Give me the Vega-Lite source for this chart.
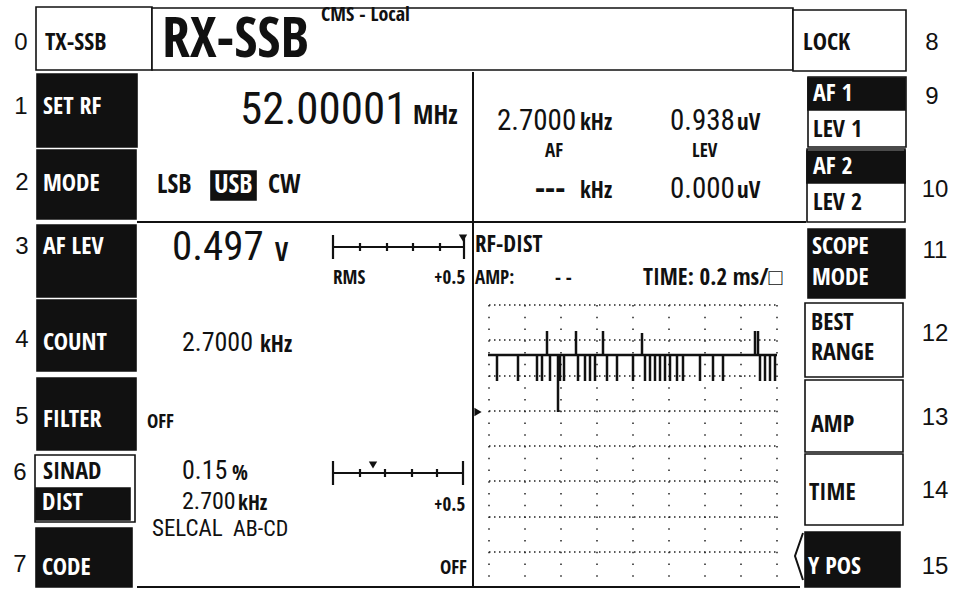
{
  "$schema": "https://vega.github.io/schema/vega-lite/v6.json",
  "width": 958,
  "height": 589,
  "autosize": {"type": "none"},
  "padding": 0,
  "background": "white",
  "config": {"view": {"stroke": null}},
  "datasets": {
    "boxes": [
      {"key": "TX-SSB", "state": "off", "x": 36, "x2": 152, "y": 7, "y2": 70},
      {"key": "header", "state": "off", "x": 152, "x2": 793, "y": 8, "y2": 70},
      {"key": "LOCK", "state": "off", "x": 793, "x2": 906, "y": 10, "y2": 71},
      {"key": "SET RF", "state": "on", "x": 37, "x2": 137, "y": 74, "y2": 147},
      {"key": "MODE", "state": "on", "x": 37, "x2": 136, "y": 150, "y2": 219},
      {"key": "AF LEV", "state": "on", "x": 37, "x2": 136, "y": 225, "y2": 297},
      {"key": "COUNT", "state": "on", "x": 37, "x2": 136, "y": 300, "y2": 371},
      {"key": "FILTER", "state": "on", "x": 37, "x2": 136, "y": 378, "y2": 450},
      {"key": "SINAD", "state": "off", "x": 35, "x2": 135, "y": 455, "y2": 522},
      {"key": "DIST", "state": "on", "x": 36, "x2": 130, "y": 488, "y2": 520},
      {"key": "CODE", "state": "on", "x": 36, "x2": 132, "y": 528, "y2": 587},
      {"key": "LEV 1", "state": "off", "x": 808, "x2": 906, "y": 77, "y2": 147},
      {"key": "AF 1", "state": "on", "x": 808, "x2": 905, "y": 78, "y2": 110},
      {"key": "LEV 2", "state": "off", "x": 807, "x2": 905, "y": 149, "y2": 222},
      {"key": "AF 2", "state": "on", "x": 807, "x2": 905, "y": 151, "y2": 183},
      {"key": "SCOPE MODE", "state": "on", "x": 808, "x2": 905, "y": 229, "y2": 298},
      {"key": "BEST RANGE", "state": "off", "x": 805, "x2": 903, "y": 303, "y2": 377},
      {"key": "AMP", "state": "off", "x": 805, "x2": 903, "y": 380, "y2": 452},
      {"key": "TIME", "state": "off", "x": 805, "x2": 903, "y": 454, "y2": 525},
      {"key": "Y POS", "state": "on", "x": 805, "x2": 900, "y": 532, "y2": 587},
      {"key": "USB", "state": "on", "x": 211, "x2": 256, "y": 171, "y2": 200}
    ],
    "frame": [
      {"x": 473, "x2": 473, "y": 72, "y2": 587},
      {"x": 137, "x2": 806, "y": 222, "y2": 222},
      {"x": 137, "x2": 800, "y": 587, "y2": 587}
    ],
    "meters": [
      {"x": 333, "x2": 465, "y": 247, "y2": 247},
      {"x": 333, "x2": 333, "y": 235, "y2": 259},
      {"x": 464, "x2": 464, "y": 235, "y2": 259},
      {"x": 360, "x2": 360, "y": 243, "y2": 251},
      {"x": 387, "x2": 387, "y": 243, "y2": 251},
      {"x": 413, "x2": 413, "y": 243, "y2": 251},
      {"x": 440, "x2": 440, "y": 243, "y2": 251},
      {"x": 333, "x2": 463, "y": 473, "y2": 473},
      {"x": 333, "x2": 333, "y": 461, "y2": 485},
      {"x": 463, "x2": 463, "y": 461, "y2": 485},
      {"x": 360, "x2": 360, "y": 469, "y2": 477},
      {"x": 385, "x2": 385, "y": 469, "y2": 477},
      {"x": 412, "x2": 412, "y": 469, "y2": 477},
      {"x": 437, "x2": 437, "y": 469, "y2": 477}
    ],
    "markers": [
      {"x": 463, "y": 238, "dir": "down"},
      {"x": 373, "y": 465, "dir": "down"},
      {"x": 478, "y": 412, "dir": "right"}
    ],
    "gridH": [
      {"x": 489, "x2": 777, "y": 305, "y2": 305},
      {"x": 489, "x2": 777, "y": 340, "y2": 340},
      {"x": 489, "x2": 777, "y": 376, "y2": 376},
      {"x": 489, "x2": 777, "y": 411, "y2": 411},
      {"x": 489, "x2": 777, "y": 446, "y2": 446},
      {"x": 489, "x2": 777, "y": 481, "y2": 481},
      {"x": 489, "x2": 777, "y": 517, "y2": 517},
      {"x": 489, "x2": 777, "y": 552, "y2": 552}
    ],
    "gridV": [
      {"x": 489, "x2": 489, "y": 305, "y2": 587},
      {"x": 525, "x2": 525, "y": 305, "y2": 587},
      {"x": 561, "x2": 561, "y": 305, "y2": 587},
      {"x": 597, "x2": 597, "y": 305, "y2": 587},
      {"x": 633, "x2": 633, "y": 305, "y2": 587},
      {"x": 669, "x2": 669, "y": 305, "y2": 587},
      {"x": 705, "x2": 705, "y": 305, "y2": 587},
      {"x": 741, "x2": 741, "y": 305, "y2": 587},
      {"x": 777, "x2": 777, "y": 305, "y2": 587}
    ],
    "trace": [
      {"x": 488, "x2": 777, "y": 355, "y2": 355},
      {"x": 497, "x2": 497, "y": 355, "y2": 381},
      {"x": 518, "x2": 518, "y": 355, "y2": 381},
      {"x": 537, "x2": 537, "y": 355, "y2": 381},
      {"x": 542, "x2": 542, "y": 355, "y2": 381},
      {"x": 550, "x2": 550, "y": 355, "y2": 381},
      {"x": 560, "x2": 560, "y": 355, "y2": 381},
      {"x": 564, "x2": 564, "y": 355, "y2": 381},
      {"x": 578, "x2": 578, "y": 355, "y2": 381},
      {"x": 585, "x2": 585, "y": 355, "y2": 381},
      {"x": 590, "x2": 590, "y": 355, "y2": 381},
      {"x": 595, "x2": 595, "y": 355, "y2": 381},
      {"x": 607, "x2": 607, "y": 355, "y2": 381},
      {"x": 617, "x2": 617, "y": 355, "y2": 381},
      {"x": 633, "x2": 633, "y": 355, "y2": 381},
      {"x": 645, "x2": 645, "y": 355, "y2": 381},
      {"x": 650, "x2": 650, "y": 355, "y2": 381},
      {"x": 655, "x2": 655, "y": 355, "y2": 381},
      {"x": 660, "x2": 660, "y": 355, "y2": 381},
      {"x": 665, "x2": 665, "y": 355, "y2": 381},
      {"x": 670, "x2": 670, "y": 355, "y2": 381},
      {"x": 677, "x2": 677, "y": 355, "y2": 381},
      {"x": 683, "x2": 683, "y": 355, "y2": 381},
      {"x": 700, "x2": 700, "y": 355, "y2": 381},
      {"x": 713, "x2": 713, "y": 355, "y2": 381},
      {"x": 723, "x2": 723, "y": 355, "y2": 381},
      {"x": 760, "x2": 760, "y": 355, "y2": 381},
      {"x": 765, "x2": 765, "y": 355, "y2": 381},
      {"x": 770, "x2": 770, "y": 355, "y2": 381},
      {"x": 775, "x2": 775, "y": 355, "y2": 381},
      {"x": 547, "x2": 547, "y": 331, "y2": 355},
      {"x": 576, "x2": 576, "y": 331, "y2": 355},
      {"x": 603, "x2": 603, "y": 331, "y2": 355},
      {"x": 642, "x2": 642, "y": 333, "y2": 355},
      {"x": 755, "x2": 755, "y": 331, "y2": 355},
      {"x": 758, "x2": 758, "y": 331, "y2": 355},
      {"x": 558, "x2": 558, "y": 355, "y2": 412}
    ],
    "arrow": [
      {"x": 803, "y": 533, "order": 1},
      {"x": 795, "y": 556, "order": 2},
      {"x": 803, "y": 580, "order": 3}
    ],
    "numbers": [
      {"label": "0", "x": 21, "y": 43},
      {"label": "1", "x": 21, "y": 107},
      {"label": "2", "x": 22, "y": 183},
      {"label": "3", "x": 22, "y": 247},
      {"label": "4", "x": 22, "y": 340},
      {"label": "5", "x": 22, "y": 417},
      {"label": "6", "x": 20, "y": 473},
      {"label": "7", "x": 20, "y": 565},
      {"label": "8", "x": 932, "y": 43},
      {"label": "9", "x": 932, "y": 97},
      {"label": "10", "x": 935, "y": 190},
      {"label": "11", "x": 935, "y": 251},
      {"label": "12", "x": 935, "y": 334},
      {"label": "13", "x": 935, "y": 418},
      {"label": "14", "x": 935, "y": 491},
      {"label": "15", "x": 935, "y": 567}
    ],
    "texts": [
      {"role": "key", "label": "TX-SSB", "x": 45, "y": 43},
      {"role": "title", "label": "RX-SSB", "x": 162, "y": 40},
      {"role": "tag", "label": "CMS - Local", "x": 321, "y": 15},
      {"role": "key", "label": "LOCK", "x": 803, "y": 43},
      {"role": "keyOn", "label": "SET RF", "x": 43, "y": 107},
      {"role": "freq", "label": "52.00001", "x": 240, "y": 110},
      {"role": "unitL", "label": "MHz", "x": 413, "y": 116},
      {"role": "valueL", "label": "2.7000", "x": 497, "y": 121},
      {"role": "unit", "label": "kHz", "x": 580, "y": 123},
      {"role": "valueL", "label": "0.938", "x": 670, "y": 121},
      {"role": "unit", "label": "uV", "x": 737, "y": 123},
      {"role": "label", "label": "AF", "x": 545, "y": 151},
      {"role": "label", "label": "LEV", "x": 692, "y": 151},
      {"role": "dash", "label": "---", "x": 535, "y": 189},
      {"role": "unit", "label": "kHz", "x": 580, "y": 191},
      {"role": "valueL", "label": "0.000", "x": 670, "y": 189},
      {"role": "unit", "label": "uV", "x": 737, "y": 191},
      {"role": "keyOn", "label": "AF 1", "x": 813, "y": 94},
      {"role": "key", "label": "LEV 1", "x": 813, "y": 130},
      {"role": "keyOn", "label": "AF 2", "x": 813, "y": 167},
      {"role": "key", "label": "LEV 2", "x": 813, "y": 203},
      {"role": "keyOn", "label": "MODE", "x": 43, "y": 184},
      {"role": "mode", "label": "LSB", "x": 157, "y": 185},
      {"role": "modeOn", "label": "USB", "x": 214, "y": 185},
      {"role": "mode", "label": "CW", "x": 268, "y": 185},
      {"role": "keyOn", "label": "AF LEV", "x": 43, "y": 247},
      {"role": "bigValue", "label": "0.497", "x": 172, "y": 248},
      {"role": "unitL", "label": "V", "x": 275, "y": 253},
      {"role": "label", "label": "RMS", "x": 333, "y": 278},
      {"role": "label", "label": "+0.5", "x": 434, "y": 278},
      {"role": "scope", "label": "RF-DIST", "x": 475, "y": 245},
      {"role": "label", "label": "AMP:", "x": 475, "y": 278},
      {"role": "label", "label": "- -", "x": 555, "y": 278},
      {"role": "scope", "label": "TIME: 0.2 ms/□", "x": 643, "y": 278},
      {"role": "keyOn", "label": "SCOPE", "x": 812, "y": 247},
      {"role": "keyOn", "label": "MODE", "x": 812, "y": 278},
      {"role": "keyOn", "label": "COUNT", "x": 43, "y": 343},
      {"role": "valueM", "label": "2.7000", "x": 182, "y": 343},
      {"role": "unit", "label": "kHz", "x": 260, "y": 345},
      {"role": "key", "label": "BEST", "x": 811, "y": 323},
      {"role": "key", "label": "RANGE", "x": 811, "y": 353},
      {"role": "keyOn", "label": "FILTER", "x": 43, "y": 420},
      {"role": "label", "label": "OFF", "x": 147, "y": 422},
      {"role": "key", "label": "AMP", "x": 811, "y": 425},
      {"role": "key", "label": "SINAD", "x": 43, "y": 472},
      {"role": "keyOn", "label": "DIST", "x": 42, "y": 503},
      {"role": "valueM", "label": "0.15", "x": 182, "y": 471},
      {"role": "unitS", "label": "%", "x": 232, "y": 474},
      {"role": "label", "label": "+0.5", "x": 434, "y": 505},
      {"role": "valueS", "label": "2.700", "x": 182, "y": 502},
      {"role": "unitS", "label": "kHz", "x": 238, "y": 504},
      {"role": "selcal", "label": "SELCAL", "x": 152, "y": 529},
      {"role": "code", "label": "AB-CD", "x": 233, "y": 529},
      {"role": "keyOn", "label": "CODE", "x": 42, "y": 568},
      {"role": "label", "label": "OFF", "x": 440, "y": 568},
      {"role": "key", "label": "TIME", "x": 809, "y": 493},
      {"role": "keyOn", "label": "Y POS", "x": 808, "y": 567}
    ]
  },
  "encoding": {
    "x": {"field": "x", "type": "quantitative", "scale": {"domain": [0, 958], "nice": false, "zero": false}, "axis": null},
    "y": {"field": "y", "type": "quantitative", "scale": {"domain": [0, 589], "reverse": true, "nice": false, "zero": false}, "axis": null}
  },
  "layer": [
    {
      "data": {"name": "boxes"},
      "transform": [{"filter": "datum.state === 'off'"}],
      "mark": {"type": "rect", "fill": "white", "stroke": "#111", "strokeWidth": 1.6},
      "encoding": {"x2": {"field": "x2"}, "y2": {"field": "y2"}}
    },
    {
      "data": {"name": "boxes"},
      "transform": [{"filter": "datum.state === 'on'"}],
      "mark": {"type": "rect", "fill": "#111", "stroke": "#111", "strokeWidth": 1.6},
      "encoding": {"x2": {"field": "x2"}, "y2": {"field": "y2"}}
    },
    {
      "data": {"name": "frame"},
      "mark": {"type": "rule", "color": "#111", "strokeWidth": 2},
      "encoding": {"x2": {"field": "x2"}, "y2": {"field": "y2"}}
    },
    {
      "data": {"name": "gridH"},
      "mark": {"type": "rule", "color": "#222", "strokeWidth": 1.5, "strokeDash": [1.5, 3.5]},
      "encoding": {"x2": {"field": "x2"}, "y2": {"field": "y2"}}
    },
    {
      "data": {"name": "gridV"},
      "mark": {"type": "rule", "color": "#222", "strokeWidth": 1.5, "strokeDash": [1.5, 10.25]},
      "encoding": {"x2": {"field": "x2"}, "y2": {"field": "y2"}}
    },
    {
      "data": {"name": "trace"},
      "mark": {"type": "rule", "color": "#111", "strokeWidth": 2.5},
      "encoding": {"x2": {"field": "x2"}, "y2": {"field": "y2"}}
    },
    {
      "data": {"name": "meters"},
      "mark": {"type": "rule", "color": "#111", "strokeWidth": 2.2},
      "encoding": {"x2": {"field": "x2"}, "y2": {"field": "y2"}}
    },
    {
      "data": {"name": "markers"},
      "mark": {"type": "point", "filled": true, "color": "#111", "size": 70, "opacity": 1},
      "encoding": {
        "shape": {"field": "dir", "type": "nominal", "scale": {"domain": ["down", "right"], "range": ["triangle-down", "triangle-right"]}, "legend": null}
      }
    },
    {
      "data": {"name": "arrow"},
      "mark": {"type": "line", "color": "#111", "strokeWidth": 2},
      "encoding": {"order": {"field": "order", "type": "quantitative"}}
    },
    {
      "data": {"name": "numbers"},
      "mark": {"type": "text", "font": "Liberation Sans", "fontSize": 24, "align": "center", "baseline": "middle", "color": "#111"},
      "encoding": {"text": {"field": "label"}}
    },
    {
      "data": {"name": "texts"},
      "transform": [{"filter": {"field": "role", "oneOf": ["key", "keyOn", "title", "tag", "label", "mode", "modeOn", "unit", "unitL", "unitS", "scope", "dash"]}}],
      "mark": {"type": "text", "font": "Open Sans Condensed", "fontWeight": "bold", "align": "left", "baseline": "middle"},
      "encoding": {
        "text": {"field": "label"},
        "size": {"field": "role", "type": "nominal", "scale": {"type": "ordinal", "domain": ["key", "keyOn", "title", "tag", "label", "mode", "modeOn", "unit", "unitL", "unitS", "scope", "dash"], "range": [24, 24, 56, 20, 19, 26, 26, 23, 26, 21, 23, 32]}, "legend": null},
        "color": {"condition": {"test": "datum.role === 'keyOn' || datum.role === 'modeOn'", "value": "white"}, "value": "#111"}
      }
    },
    {
      "data": {"name": "texts"},
      "transform": [{"filter": {"field": "role", "oneOf": ["freq", "valueL", "bigValue", "valueM", "valueS", "selcal", "code"]}}],
      "mark": {"type": "text", "font": "Roboto Condensed", "align": "left", "baseline": "middle", "color": "#111"},
      "encoding": {
        "text": {"field": "label"},
        "size": {"field": "role", "type": "nominal", "scale": {"type": "ordinal", "domain": ["freq", "valueL", "bigValue", "valueM", "valueS", "selcal", "code"], "range": [45, 29, 41, 26, 24, 23, 22]}, "legend": null}
      }
    }
  ],
  "resolve": {"scale": {"size": "independent"}}
}
